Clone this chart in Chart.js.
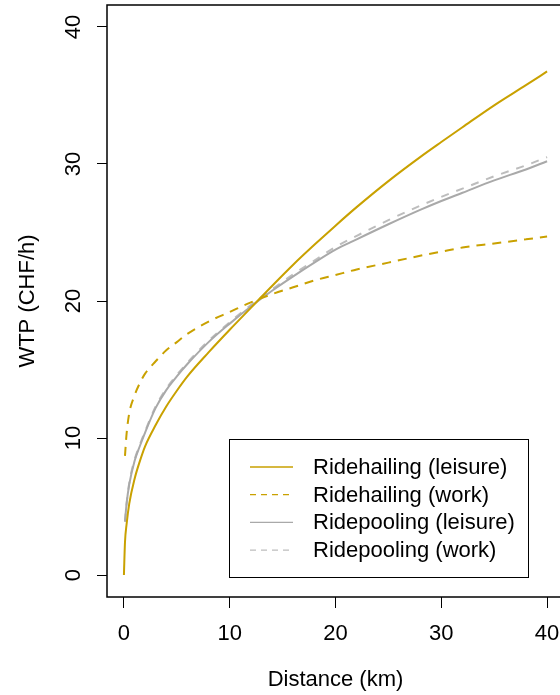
<!DOCTYPE html>
<html>
<head>
<meta charset="utf-8">
<script src="https://cdn.jsdelivr.net/npm/chart.js@4"></script>
<style>
  html, body { margin: 0; padding: 0; overflow: hidden; background: #fff; }
  canvas { display: block; }
</style>
</head>
<body>
<canvas id="wtp-chart" width="570" height="695"></canvas>
<script>
// Values
const distance = [0, 0.1, 0.25, 0.5, 1, 1.5, 2, 3, 4, 5, 6, 8, 10, 12, 14, 16, 18, 20, 22, 25, 28, 30, 32, 35, 38, 40];
const rhLeisure = [0, 2.4, 3.7, 5.2, 7.0, 8.3, 9.4, 10.95, 12.3, 13.45, 14.5, 16.25, 17.9, 19.5, 21.1, 22.65, 24.1, 25.5, 26.85, 28.75, 30.5, 31.6, 32.68, 34.28, 35.75, 36.75];
const rhWork = [null, 8.7, 10.3, 11.8, 13.1, 14.0, 14.7, 15.6, 16.4, 17.0, 17.6, 18.5, 19.2, 19.9, 20.5, 21.0, 21.5, 21.9, 22.3, 22.8, 23.3, 23.6, 23.9, 24.2, 24.5, 24.7];
const rpLeisure = [null, 3.9, 5.2, 6.6, 8.3, 9.4, 10.4, 12.2, 13.5, 14.5, 15.4, 17.0, 18.35, 19.6, 20.75, 21.8, 22.8, 23.75, 24.5, 25.6, 26.65, 27.3, 27.9, 28.8, 29.6, 30.2];
const rpWork = [null, 3.9, 5.2, 6.7, 8.4, 9.5, 10.5, 12.3, 13.6, 14.6, 15.5, 17.1, 18.45, 19.7, 20.85, 21.95, 22.95, 23.95, 24.75, 25.9, 26.95, 27.6, 28.2, 29.1, 29.9, 30.5];
const seriesLabels = ["Ridehailing (leisure)", "Ridehailing (work)", "Ridepooling (leisure)", "Ridepooling (work)"];
const tickValues = [0, 10, 20, 30, 40];

const gold = "#c9a100";
const grey = "#a9a9a9";
const greyLight = "#bdbdbd";
const FONT = '22px "Liberation Sans", Arial, sans-serif';

const toPoints = (ys) => distance.map((x, i) => ({ x, y: ys[i] })).filter(p => p.y !== null);

// R-style box, rotated y labels, axis titles and legend
const rStyle = {
    id: "rStyle",
    afterDraw(chart) {
        const { ctx, chartArea: a, scales } = chart;
        ctx.save();
        ctx.strokeStyle = "#000";
        ctx.lineWidth = 1.5;
        ctx.strokeRect(a.left, a.top, a.right - a.left, a.bottom - a.top);

        ctx.fillStyle = "#000";
        ctx.font = FONT;
        ctx.textAlign = "center";
        ctx.textBaseline = "middle";
        tickValues.forEach(v => {
            ctx.fillText(String(v), scales.x.getPixelForValue(v), 634);
            const y = scales.y.getPixelForValue(v);
            ctx.save();
            ctx.translate(74, y);
            ctx.rotate(-Math.PI / 2);
            ctx.fillText(String(v), 0, 0);
            ctx.restore();
        });
        ctx.fillText("Distance (km)", (scales.x.getPixelForValue(-1.6) + scales.x.getPixelForValue(41.6)) / 2, 680);
        ctx.save();
        ctx.translate(28, (a.top + a.bottom) / 2);
        ctx.rotate(-Math.PI / 2);
        ctx.fillText("WTP (CHF/h)", 0, 0);
        ctx.restore();

        // legend
        const lx = 229.5, ly = 439.5, lw = 299, lh = 138;
        ctx.fillStyle = "#fff";
        ctx.fillRect(lx, ly, lw, lh);
        ctx.strokeStyle = "#000";
        ctx.lineWidth = 1;
        ctx.strokeRect(lx, ly, lw, lh);
        ctx.textAlign = "left";
        chart.data.datasets.forEach((ds, i) => {
            const y = 467 + i * 27.7;
            ctx.strokeStyle = ds.borderColor;
            ctx.lineWidth = 1.3;
            ctx.setLineDash(ds.borderDash && ds.borderDash.length ? [6, 5] : []);
            ctx.beginPath();
            ctx.moveTo(250, y);
            ctx.lineTo(293, y);
            ctx.stroke();
            ctx.setLineDash([]);
            ctx.fillStyle = "#000";
            ctx.fillText(ds.label, 313, y + 1);
        });
        ctx.restore();
    }
};

const ctx = document.getElementById("wtp-chart").getContext("2d");
new Chart(ctx, {
    type: "scatter",
    data: {
        datasets: [
            { label: seriesLabels[0], data: toPoints(rhLeisure), borderColor: gold, borderWidth: 2, borderDash: [] },
            { label: seriesLabels[1], data: toPoints(rhWork), borderColor: gold, borderWidth: 2, borderDash: [9, 7] },
            { label: seriesLabels[2], data: toPoints(rpLeisure), borderColor: grey, borderWidth: 2, borderDash: [] },
            { label: seriesLabels[3], data: toPoints(rpWork), borderColor: greyLight, borderWidth: 2, borderDash: [8, 8] }
        ].map(ds => Object.assign(ds, { showLine: true, pointRadius: 0, tension: 0.4, cubicInterpolationMode: "monotone", fill: false }))
    },
    options: {
        responsive: false,
        animation: false,
        layout: { padding: { left: 97, top: 5, right: 6, bottom: 87 } },
        plugins: { legend: { display: false }, tooltip: { enabled: false } },
        scales: {
            x: {
                type: "linear", min: -1.6, max: 41.6,
                afterBuildTicks: (s) => { s.ticks = tickValues.map(v => ({ value: v })); },
                ticks: { display: false },
                border: { display: false },
                grid: { drawOnChartArea: false, drawTicks: true, tickLength: 11, color: "#000", lineWidth: 1 }
            },
            y: {
                type: "linear", min: -1.6, max: 41.6,
                afterBuildTicks: (s) => { s.ticks = tickValues.map(v => ({ value: v })); },
                ticks: { display: false },
                border: { display: false },
                grid: { drawOnChartArea: false, drawTicks: true, tickLength: 10, color: "#000", lineWidth: 1 }
            }
        }
    },
    plugins: [rStyle]
});
</script>
</body>
</html>
